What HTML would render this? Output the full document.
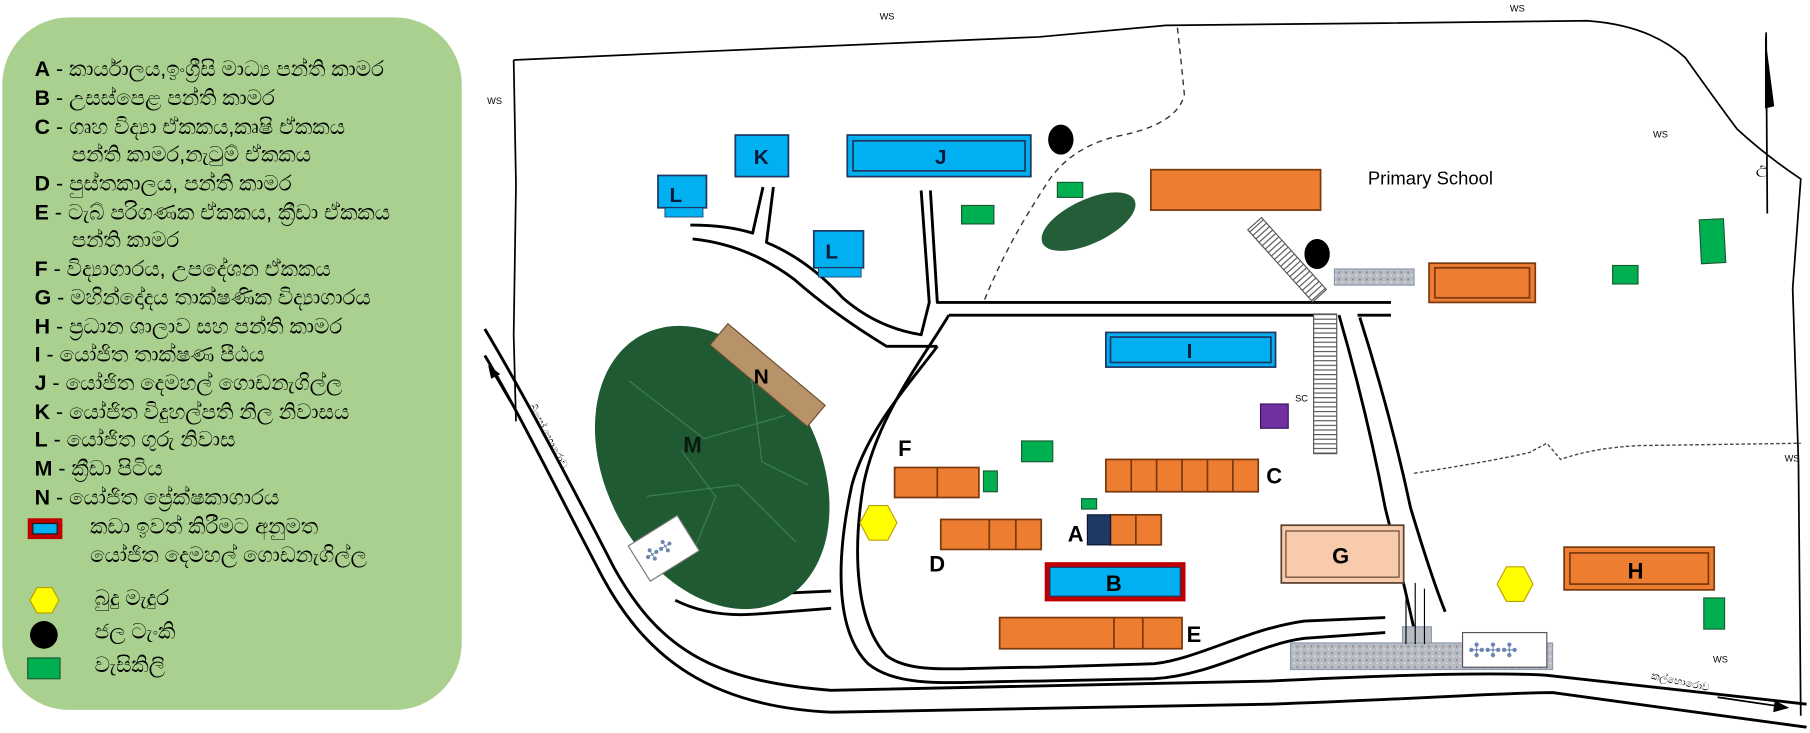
<!DOCTYPE html>
<html><head><meta charset="utf-8"><style>
html,body{margin:0;padding:0;background:#fff;}
svg{display:block;}
text{font-family:"Liberation Sans","DejaVu Sans",sans-serif;}
</style></head><body>
<svg width="1810" height="733" viewBox="0 0 1568 635" preserveAspectRatio="none" xmlns="http://www.w3.org/2000/svg">
<defs>
<pattern id="hatchH" width="4" height="4" patternUnits="userSpaceOnUse"><rect width="4" height="4" fill="#fff"/><line x1="0" y1="0.5" x2="4" y2="0.5" stroke="#555" stroke-width="1"/></pattern>
<pattern id="gravel" width="6" height="6" patternUnits="userSpaceOnUse"><rect width="6" height="6" fill="#b8bcc2"/><circle cx="2" cy="2" r="1" fill="#8a8f96"/><circle cx="5" cy="4.5" r="0.8" fill="#e0e2e5"/></pattern>
</defs>
<rect width="1568" height="635" fill="#fff"/>

<!-- Legend -->
<rect x="2" y="15" width="398" height="600" rx="58" ry="58" fill="#a9d08e"/>
<g font-size="18.5" fill="#000">
<text x="30" y="66"><tspan font-weight="bold">A</tspan> - කාර්යාලය,ඉංග්‍රීසි මාධ්‍ය පන්ති කාමර</text>
<text x="30" y="91"><tspan font-weight="bold">B</tspan> - උසස්පෙළ පන්ති කාමර</text>
<text x="30" y="116"><tspan font-weight="bold">C</tspan> - ගෘහ විද්‍යා ඒකකය,කෘෂි ඒකකය</text>
<text x="62" y="140">පන්ති කාමර,නැටුම් ඒකකය</text>
<text x="30" y="165"><tspan font-weight="bold">D</tspan> - පුස්තකාලය, පන්ති කාමර</text>
<text x="30" y="190"><tspan font-weight="bold">E</tspan> - ටැබ් පරිගණක ඒකකය, ක්‍රීඩා ඒකකය</text>
<text x="62" y="214">පන්ති කාමර</text>
<text x="30" y="239"><tspan font-weight="bold">F</tspan> - විද්‍යාගාරය, උපදේශන ඒකකය</text>
<text x="30" y="264"><tspan font-weight="bold">G</tspan> - මහින්දෝදය තාක්ෂණික විද්‍යාගාරය</text>
<text x="30" y="289"><tspan font-weight="bold">H</tspan> - ප්‍රධාන ශාලාව සහ පන්ති කාමර</text>
<text x="30" y="313"><tspan font-weight="bold">I</tspan> - යෝජිත තාක්ෂණ පීඨය</text>
<text x="30" y="338"><tspan font-weight="bold">J</tspan> - යෝජිත දෙමහල් ගොඩනැගිල්ල</text>
<text x="30" y="363"><tspan font-weight="bold">K</tspan> - යෝජිත විදුහල්පති නිල නිවාසය</text>
<text x="30" y="387"><tspan font-weight="bold">L</tspan> - යෝජිත ගුරු නිවාස</text>
<text x="30" y="412"><tspan font-weight="bold">M</tspan> - ක්‍රීඩා පිටිය</text>
<text x="30" y="437"><tspan font-weight="bold">N</tspan> - යෝජිත ප්‍රේක්ෂකාගාරය</text>
<text x="78" y="462">කඩා ඉවත් කිරීමට අනුමත</text>
<text x="78" y="487">යෝජිත දෙමහල් ගොඩනැගිල්ල</text>
<text x="82" y="524">බුදු මැදුර</text>
<text x="82" y="553">ජල ටැංකි</text>
<text x="82" y="582">වැසිකිලි</text>
</g>
<rect x="24" y="449" width="30" height="18" fill="#c00000"/>
<rect x="28" y="453" width="22" height="10" fill="#1a1a1a"/>
<rect x="29" y="454" width="20" height="8" fill="#00b0f0"/>
<polygon points="26,520 32,509 45,509 51,520 45,531 32,531" fill="#ffff00" stroke="#b8a000"/>
<circle cx="38" cy="550" r="12" fill="#000"/>
<rect x="24" y="570" width="28" height="18" fill="#00b050" stroke="#1a5a30"/>

<!-- boundary -->
<path d="M445,52 L600,45 L760,38 L900,32 L1010,22 L1200,20 L1375,18 Q1430,22 1460,50 Q1490,92 1505,112 Q1530,135 1560,155 L1553,250 L1558,400 L1560,620" fill="none" stroke="#000" stroke-width="1.5"/>
<path d="M445,52 L447,160 L445,290 L447,365" fill="none" stroke="#000" stroke-width="1.5"/>
<g font-size="8" fill="#000">
<text x="762" y="17">WS</text><text x="1308" y="10">WS</text><text x="422" y="90">WS</text>
<text x="1432" y="119">WS</text><text x="1546" y="400">WS</text><text x="1484" y="574">WS</text><text x="1122" y="348">SC</text>
</g>
<!-- dashed -->
<path d="M1020,24 Q1024,60 1026,82 Q1020,108 968,118 Q925,128 905,162 Q872,212 852,262" fill="none" stroke="#333" stroke-width="1.2" stroke-dasharray="5,4"/>
<path d="M1225,410 Q1290,400 1325,392 L1340,384 L1352,398 Q1380,388 1420,386 L1560,384" fill="none" stroke="#444" stroke-width="1.2" stroke-dasharray="3,2"/>

<!-- roads -->
<g fill="none" stroke="#000" stroke-width="2.5" stroke-linejoin="round">
<path d="M420,285 C450,335 495,420 532,492 C570,560 615,590 720,598 L1100,590 C1200,585 1290,582 1340,585 L1565,610"/>
<path d="M420,308 C450,358 485,430 522,500 C560,570 615,612 720,617 L1100,610 C1220,606 1300,600 1345,600 L1565,630"/>
<path d="M598,195 Q630,195 652,202 L661,162"/>
<path d="M670,162 L664,210 Q700,225 730,258 Q760,284 798,290 L805,262 L798,165"/>
<path d="M600,207 Q648,212 688,242 Q722,272 768,300 L812,300"/>
<path d="M806,165 L812,262 L1205,262"/>
<path d="M822,273 L1140,273"/>
<path d="M1176,273 L1205,273"/>
<path d="M822,273 C800,310 760,360 748,420 C738,480 742,540 768,568 C790,585 830,578 900,578 L1000,575 C1040,570 1080,545 1130,538 L1200,535"/>
<path d="M812,300 C790,330 752,370 738,420 C725,480 722,545 752,575 C780,598 830,590 900,590 L1000,588 C1050,585 1090,558 1130,553 L1200,548"/>
<path d="M1160,273 Q1185,360 1200,440 Q1215,500 1225,545"/>
<path d="M1178,275 Q1205,360 1222,440 Q1240,500 1252,530"/>
<path d="M588,505 Q620,520 655,515 L720,512"/>
<path d="M585,520 Q615,535 655,532 L720,527"/>
</g>
<!-- arrows -->
<g stroke="#000" stroke-width="1.5" fill="#000">
<line x1="442" y1="348" x2="428" y2="324"/><polygon points="424,318 432,324 426,327"/>
<line x1="1488" y1="604" x2="1542" y2="612"/><polygon points="1548,613 1538,608 1537,616"/>
</g>
<text font-size="9" transform="translate(458,352) rotate(62)">බිසෝ හොරොව</text>
<text font-size="9" transform="translate(1430,588) rotate(12)">කල්හොරොව</text>

<!-- north arrow -->
<line x1="1530" y1="28" x2="1531" y2="185" stroke="#000" stroke-width="1.5"/>
<polygon points="1529,30 1537,92 1529,94" fill="#000"/>
<text x="1521" y="150" font-size="14">උ</text>

<!-- M -->
<ellipse cx="617" cy="405" rx="92" ry="130" transform="rotate(-28 617 405)" fill="#1f5a33"/>
<g stroke="#4f9a68" stroke-width="1" fill="none" opacity="0.6">
<path d="M545,330 L610,380 L680,360"/><path d="M560,430 L640,420 L690,470"/><path d="M600,480 L620,430 L590,390"/><path d="M650,320 L660,400 L700,420"/>
</g>
<text x="592" y="392" font-size="19" font-weight="bold" fill="#0a1a0e">M</text>
<g transform="translate(575,475) rotate(-32)">
<rect x="-25" y="-18" width="50" height="36" fill="#fff" stroke="#777"/>
<text x="-18" y="5" font-size="16" fill="#6a86b0">✣✣</text>
</g>
<!-- N -->
<g transform="translate(665,325) rotate(40)">
<rect x="-55" y="-12" width="110" height="24" fill="#b8936a" stroke="#6a4e30"/>
<text x="-12" y="7" font-size="18" font-weight="bold" transform="rotate(-40)">N</text>
</g>

<!-- blue buildings -->
<g stroke="#1f3864" stroke-width="1.5" font-weight="bold" font-size="18" fill="#0a1a3a">
<rect x="637" y="117" width="46" height="36" fill="#00b0f0"/>
<rect x="734" y="117" width="159" height="36" fill="#00b0f0"/><rect x="739" y="122" width="149" height="26" fill="none"/>
<rect x="570" y="152" width="42" height="28" fill="#00b0f0"/><rect x="576" y="180" width="33" height="8" fill="#00b0f0" stroke-width="0.7"/>
<rect x="705" y="200" width="43" height="32" fill="#00b0f0"/><rect x="709" y="232" width="37" height="8" fill="#00b0f0" stroke-width="0.7"/>
<rect x="958" y="288" width="147" height="30" fill="#00b0f0"/><rect x="962" y="292" width="139" height="22" fill="none"/>
</g>
<g font-weight="bold" font-size="18" fill="#0a1a3a">
<text x="653" y="142">K</text><text x="810" y="142">J</text><text x="580" y="175">L</text><text x="715" y="224">L</text><text x="1028" y="310">I</text>
</g>

<!-- greens, dots -->
<g fill="#00b050" stroke="#1a5a30">
<rect x="916" y="158" width="22" height="13"/><rect x="833" y="178" width="28" height="16"/>
<rect x="1397" y="230" width="22" height="16"/><rect x="1473" y="190" width="21" height="38" transform="rotate(-3 1483 209)"/>
<rect x="885" y="382" width="27" height="18"/><rect x="852" y="408" width="12" height="18"/><rect x="937" y="432" width="13" height="9"/>
<rect x="1476" y="518" width="18" height="27"/>
</g>
<ellipse cx="919" cy="121" rx="11" ry="13" fill="#000"/>
<ellipse cx="1141" cy="220" rx="11" ry="13" fill="#000"/>
<ellipse cx="943" cy="192" rx="44" ry="19" transform="rotate(-25 943 192)" fill="#235e38"/>

<!-- orange -->
<g stroke="#7a3a10" stroke-width="1.5" fill="#ed7d31">
<rect x="997" y="147" width="147" height="35"/>
<rect x="1238" y="228" width="92" height="34"/><rect x="1243" y="232" width="82" height="26" fill="none"/>
<rect x="775" y="405" width="73" height="26"/><line x1="812" y1="405" x2="812" y2="431"/>
<rect x="958" y="398" width="132" height="28"/>
<line x1="980" y1="398" x2="980" y2="426"/><line x1="1002" y1="398" x2="1002" y2="426"/><line x1="1024" y1="398" x2="1024" y2="426"/><line x1="1046" y1="398" x2="1046" y2="426"/><line x1="1068" y1="398" x2="1068" y2="426"/>
<rect x="815" y="450" width="87" height="26"/><line x1="857" y1="450" x2="857" y2="476"/><line x1="880" y1="450" x2="880" y2="476"/>
<rect x="962" y="446" width="44" height="26"/><line x1="984" y1="446" x2="984" y2="472"/>
<rect x="866" y="535" width="158" height="27"/><line x1="965" y1="535" x2="965" y2="562"/><line x1="990" y1="535" x2="990" y2="562"/>
<rect x="1355" y="474" width="130" height="37"/><rect x="1360" y="479" width="120" height="27" fill="none"/>
</g>
<rect x="942" y="446" width="20" height="26" fill="#1f3864" stroke="#0a1530"/>
<rect x="905" y="487" width="122" height="34" fill="#c00000"/><rect x="909" y="491" width="114" height="26" fill="#1f3864"/><rect x="910" y="492" width="112" height="24" fill="#00b0f0"/>
<rect x="1110" y="455" width="106" height="50" fill="#f8cbad" stroke="#5a4030" stroke-width="1.5"/><rect x="1114" y="460" width="98" height="40" fill="none" stroke="#5a4030"/>
<polygon points="745,453 753,438 769,438 777,453 769,468 753,468" fill="#ffff00" stroke="#b8a000"/>
<polygon points="1297,506 1305,491 1320,491 1328,506 1320,521 1305,521" fill="#ffff00" stroke="#b8a000"/>
<g font-weight="bold" font-size="19" fill="#000">
<text x="778" y="395">F</text><text x="1097" y="419">C</text><text x="925" y="469">A</text><text x="805" y="495">D</text><text x="958" y="512">B</text>
<text x="1154" y="488">G</text><text x="1028" y="556">E</text><text x="1410" y="501">H</text>
</g>
<text x="1185" y="160" font-size="16" fill="#000">Primary School</text>

<!-- stairs -->
<g transform="translate(1115,225) rotate(-42)">
<rect x="-8" y="-42" width="16" height="84" fill="url(#hatchH)" stroke="#555"/>
</g>
<rect x="1138" y="272" width="20" height="121" fill="url(#hatchH)" stroke="#555"/>
<rect x="1156" y="233" width="69" height="14" fill="url(#gravel)" stroke="#8a9ab0"/>
<rect x="1092" y="350" width="24" height="21" fill="#7030a0" stroke="#3a1060"/>

<!-- bottom gravel -->
<rect x="1118" y="557" width="227" height="23" fill="url(#gravel)" stroke="#8a9ab0"/>
<rect x="1215" y="543" width="25" height="14" fill="#b8bcc2" stroke="#8a9ab0"/>
<g stroke="#000" stroke-width="1"><line x1="1218" y1="510" x2="1218" y2="558"/><line x1="1226" y1="505" x2="1226" y2="558"/><line x1="1234" y1="510" x2="1234" y2="558"/></g>
<rect x="1267" y="548" width="73" height="30" fill="#fff" stroke="#555"/>
<text x="1272" y="569" font-size="17" fill="#6a86b0">✣✣✣</text>
</svg>
</body></html>
